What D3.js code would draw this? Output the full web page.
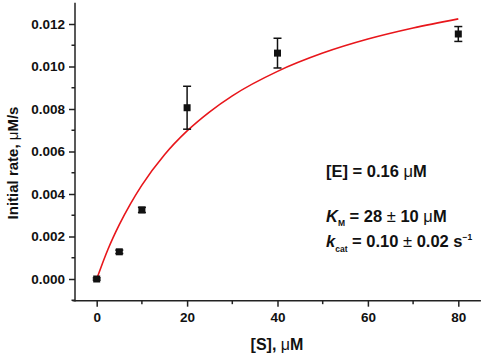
<!DOCTYPE html>
<html><head><meta charset="utf-8">
<script src="https://cdn.jsdelivr.net/npm/d3@7"></script>
<style>body{margin:0;background:#fff}svg{display:block}text{font-family:"Liberation Sans",Arial,sans-serif}</style>
</head><body>
<svg id="c" width="484" height="356"></svg>
<script>
const substrate = [0, 5, 10, 20, 40, 80];
const rate = [0.0000, 0.00128, 0.00325, 0.00806, 0.01063, 0.01153];
const rateErr = [0.00005, 0.00008, 0.00012, 0.00101, 0.00070, 0.00035];
const fitS = [0, 1, 2.5, 5, 7.5, 10, 15, 20, 25, 30, 40, 50, 60, 70, 80];
const fitV = [0, 0.00058, 0.00140, 0.00256, 0.00355, 0.00442, 0.00585, 0.00697, 0.00787, 0.00862, 0.00977, 0.01063, 0.01129, 0.01181, 0.01224];
const xTicks = [0, 20, 40, 60, 80];
const xMinor = [10, 30, 50, 70];
const yTicks = [0, 0.002, 0.004, 0.006, 0.008, 0.010, 0.012];
const yMinor = [-0.001, 0.001, 0.003, 0.005, 0.007, 0.009, 0.011];

const svg = d3.select("#c");
const x = d3.scaleLinear().domain([0, 80]).range([96.7, 458.3]);
const y = d3.scaleLinear().domain([0, 0.012]).range([279, 24]);
const axisCol = "#222";

// axes lines
svg.append("line").attr("x1", 72.5).attr("x2", x(85)).attr("y1", y(-0.00102)).attr("y2", y(-0.00102))
  .attr("stroke", axisCol).attr("stroke-width", 1.5);
svg.append("line").attr("x1", 75).attr("x2", 75).attr("y1", y(-0.00102) + 0.75).attr("y2", y(0.013))
  .attr("stroke", axisCol).attr("stroke-width", 1.5);

const xAxisY = y(-0.00102);
const gx = svg.append("g").attr("transform", `translate(0,${xAxisY})`)
  .call(d3.axisBottom(x).tickValues(xTicks).tickFormat(d3.format("d")).tickSize(6).tickPadding(6));
gx.select(".domain").remove();
gx.selectAll(".tick line").attr("stroke", axisCol).attr("stroke-width", 1.5);
gx.selectAll(".tick text").attr("font-size", 13.5).attr("font-weight", "bold").attr("fill", "#111")
  .attr("font-family", "Liberation Sans, Arial, sans-serif");
svg.append("g").selectAll("line").data(xMinor).join("line")
  .attr("x1", d => x(d)).attr("x2", d => x(d)).attr("y1", xAxisY).attr("y2", xAxisY + 3.5)
  .attr("stroke", axisCol).attr("stroke-width", 1.5);

const gy = svg.append("g").attr("transform", "translate(75,0)")
  .call(d3.axisLeft(y).tickValues(yTicks).tickFormat(d3.format(".3f")).tickSize(6).tickPadding(4));
gy.select(".domain").remove();
gy.selectAll(".tick line").attr("stroke", axisCol).attr("stroke-width", 1.5);
gy.selectAll(".tick text").attr("font-size", 13.5).attr("font-weight", "bold").attr("fill", "#111")
  .attr("font-family", "Liberation Sans, Arial, sans-serif");
svg.append("g").selectAll("line").data(yMinor).join("line")
  .attr("x1", 75).attr("x2", 71.5).attr("y1", d => y(d)).attr("y2", d => y(d))
  .attr("stroke", axisCol).attr("stroke-width", 1.5);

// axis titles
const yl = svg.append("text").attr("transform", "translate(18,163) rotate(-90)")
  .attr("text-anchor", "middle").attr("font-size", 15).attr("font-weight", "bold").attr("fill", "#111");
yl.append("tspan").text("Initial rate, ");
yl.append("tspan").attr("font-weight", "normal").text("μ");
yl.append("tspan").text("M/s");

const xl = svg.append("text").attr("x", 277).attr("y", 350)
  .attr("text-anchor", "middle").attr("font-size", 16).attr("font-weight", "bold").attr("fill", "#111");
xl.append("tspan").text("[S], ");
xl.append("tspan").attr("font-weight", "normal").text("μ");
xl.append("tspan").text("M");

// fit curve
const line = d3.line().x((d, i) => x(fitS[i])).y(d => y(d)).curve(d3.curveMonotoneX);
svg.append("path").attr("d", line(fitV)).attr("fill", "none").attr("stroke", "#e8161b").attr("stroke-width", 1.6);

// data with error bars
const pts = substrate.map((s, i) => ({s, v: rate[i], e: rateErr[i]}));
const eb = svg.append("g").attr("stroke", "#111").attr("stroke-width", 1.5);
pts.forEach(p => {
  eb.append("line").attr("x1", x(p.s)).attr("x2", x(p.s)).attr("y1", y(p.v - p.e)).attr("y2", y(p.v + p.e));
  eb.append("line").attr("x1", x(p.s) - 4).attr("x2", x(p.s) + 4).attr("y1", y(p.v - p.e)).attr("y2", y(p.v - p.e));
  eb.append("line").attr("x1", x(p.s) - 4).attr("x2", x(p.s) + 4).attr("y1", y(p.v + p.e)).attr("y2", y(p.v + p.e));
});
svg.append("g").selectAll("rect").data(pts).join("rect")
  .attr("x", d => x(d.s) - 3.5).attr("y", d => y(d.v) - 3.5).attr("width", 7).attr("height", 7).attr("fill", "#111");

// annotations
const ann = svg.append("g").attr("font-size", 16.5).attr("font-weight", "bold").attr("fill", "#111");
const t1 = ann.append("text").attr("x", 326).attr("y", 177);
t1.append("tspan").text("[E] = 0.16 ");
t1.append("tspan").attr("font-weight", "normal").text("μ");
t1.append("tspan").text("M");

const t2 = ann.append("text").attr("x", 326).attr("y", 221.5);
t2.append("tspan").attr("font-style", "italic").text("K");
t2.append("tspan").attr("font-size", 8.5).attr("dy", 4).text("M");
t2.append("tspan").attr("dy", -4).text(" = 28 ");
t2.append("tspan").attr("font-weight", "normal").text("±");
t2.append("tspan").text(" 10 ");
t2.append("tspan").attr("font-weight", "normal").text("μ");
t2.append("tspan").text("M");

const t3 = ann.append("text").attr("x", 326).attr("y", 246.5);
t3.append("tspan").attr("font-style", "italic").text("k");
t3.append("tspan").attr("font-size", 8.5).attr("dy", 5).text("cat");
t3.append("tspan").attr("dy", -5).text(" = 0.10 ");
t3.append("tspan").attr("font-weight", "normal").text("±");
t3.append("tspan").text(" 0.02 s");
t3.append("tspan").attr("font-size", 8.5).attr("dy", -7).text("−1");
</script>
</body></html>
